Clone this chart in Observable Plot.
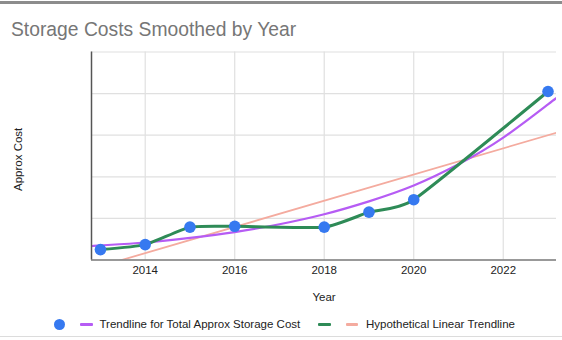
<!DOCTYPE html>
<html>
<head>
<meta charset="utf-8">
<script src="https://cdn.jsdelivr.net/npm/d3@7"></script>
<script src="https://cdn.jsdelivr.net/npm/@observablehq/plot@0.6"></script>
<style>
  html, body { margin: 0; padding: 0; background: #fff; }
  #wrap { position: relative; width: 562px; height: 340px; overflow: hidden; font-family: "Liberation Sans", Arial, sans-serif; }
  #topline { position: absolute; left: 0; top: 1px; width: 562px; height: 3px; background: #8c8c8c; }
  #botline { position: absolute; left: 0; top: 336px; width: 562px; height: 1px; background: #dcdcdc; }
  #chart { position: absolute; left: 0; top: 0; }
  .t { position: absolute; white-space: nowrap; }
  #title { left: 11px; top: 20px; font-size: 19.3px; line-height: 19px; color: #767676; }
  #xlab { left: 294px; width: 60px; text-align: center; top: 291px; font-size: 11.5px; line-height: 12px; color: #222; }
  #ylab { left: -12px; width: 60px; text-align: center; top: 155px; font-size: 11.5px; line-height: 12px; color: #222; transform: rotate(-90deg); }
  .leg { position: absolute; top: 318px; font-size: 11.5px; line-height: 12px; color: #222; white-space: nowrap; }
  .dash { position: absolute; top: 322.5px; height: 3px; width: 12.5px; border-radius: 1px; }
  .dotk { position: absolute; width: 11px; height: 11px; border-radius: 50%; left: 53.5px; top: 318.5px; }
</style>
</head>
<body>
<div id="wrap">
  <div id="topline"></div>
  <div id="botline"></div>
  <div id="chart"></div>
  <div id="title" class="t"></div>
  <div id="xlab" class="t"></div>
  <div id="ylab" class="t"></div>
  <div id="legend"></div>
</div>
<script>
// ---- data ----
const titleText = "Storage Costs Smoothed by Year";
const xLabel = "Year";
const yLabel = "Approx Cost";

const years = [2013, 2014, 2015, 2016, 2018, 2019, 2020, 2023];
const costs = [0.25, 0.37, 0.79, 0.81, 0.79, 1.15, 1.45, 4.05];

const trendYears = [2012.8, 2013, 2014, 2015, 2016, 2017, 2018, 2019, 2020, 2021, 2022, 2023, 2023.19];
const trendCosts = [0.33, 0.35, 0.42, 0.53, 0.67, 0.86, 1.10, 1.41, 1.79, 2.30, 2.94, 3.74, 3.89];

const linearYears = [2013, 2023.19];
const linearCosts = [-0.15, 3.06];

const xTicks = [2014, 2016, 2018, 2020, 2022];
const yGrid = [1, 2, 3, 4, 5];
const xDomain = [2012.8, 2023.19];
const yDomain = [0, 5];

const legendItems = [
  {label: "", color: "#3679f0", kind: "dot"},
  {label: "Trendline for Total Approx Storage Cost", color: "#b65cf4", kind: "dash"},
  {label: "", color: "#2e8b57", kind: "dash"},
  {label: "Hypothetical Linear Trendline", color: "#f4ab9f", kind: "dash"}
];

// ---- build ----
const points = years.map((y, i) => ({year: y, cost: costs[i]}));
const trend = trendYears.map((y, i) => ({year: y, cost: trendCosts[i]}));
const linear = linearYears.map((y, i) => ({year: y, cost: linearCosts[i]}));

const chart = Plot.plot({
  width: 562,
  height: 340,
  marginLeft: 91,
  marginRight: 6,
  marginTop: 51.5,
  marginBottom: 80.5,
  style: {fontFamily: "Liberation Sans, Arial, sans-serif", fontSize: "11.5px", color: "#222", background: "transparent"},
  x: {domain: xDomain},
  y: {domain: yDomain, axis: null},
  marks: [
    Plot.gridX(xTicks, {stroke: "#e0e0e0", strokeOpacity: 1, strokeWidth: 1.2}),
    Plot.gridY(yGrid, {stroke: "#e0e0e0", strokeOpacity: 1, strokeWidth: 1.2}),
    Plot.line(linear, {x: "year", y: "cost", stroke: legendItems[3].color, strokeWidth: 1.8, clip: true}),
    Plot.line(trend, {x: "year", y: "cost", stroke: legendItems[1].color, strokeWidth: 2.2, curve: "natural", clip: true}),
    Plot.line(points, {x: "year", y: "cost", stroke: legendItems[2].color, strokeWidth: 3, curve: "cardinal", tension: 0.5}),
    Plot.ruleY([yDomain[0]], {stroke: "#777", strokeWidth: 1.5}),
    Plot.ruleX([xDomain[0]], {stroke: "#555", strokeWidth: 1.5}),
    Plot.dot(points, {x: "year", y: "cost", r: 5.8, fill: legendItems[0].color, stroke: "none"}),
    Plot.axisX(xTicks, {tickSize: 0, tickPadding: 6, label: null, tickFormat: d => String(d), fill: "#222"})
  ]
});
document.getElementById("chart").appendChild(chart);

document.getElementById("title").textContent = titleText;
document.getElementById("xlab").textContent = xLabel;
document.getElementById("ylab").textContent = yLabel;

// legend positions (layout only)
const legPos = [
  {mark: 53.5, text: null},
  {mark: 80, text: 99.5},
  {mark: 318, text: null},
  {mark: 345.5, text: 366}
];
const legend = document.getElementById("legend");
legendItems.forEach((it, i) => {
  const m = document.createElement("div");
  if (it.kind === "dot") {
    m.className = "dotk";
  } else {
    m.className = "dash";
    m.style.left = legPos[i].mark + "px";
  }
  m.style.background = it.color;
  legend.appendChild(m);
  if (it.label) {
    const t = document.createElement("div");
    t.className = "leg";
    t.style.left = legPos[i].text + "px";
    t.textContent = it.label;
    legend.appendChild(t);
  }
});
</script>
</body>
</html>
